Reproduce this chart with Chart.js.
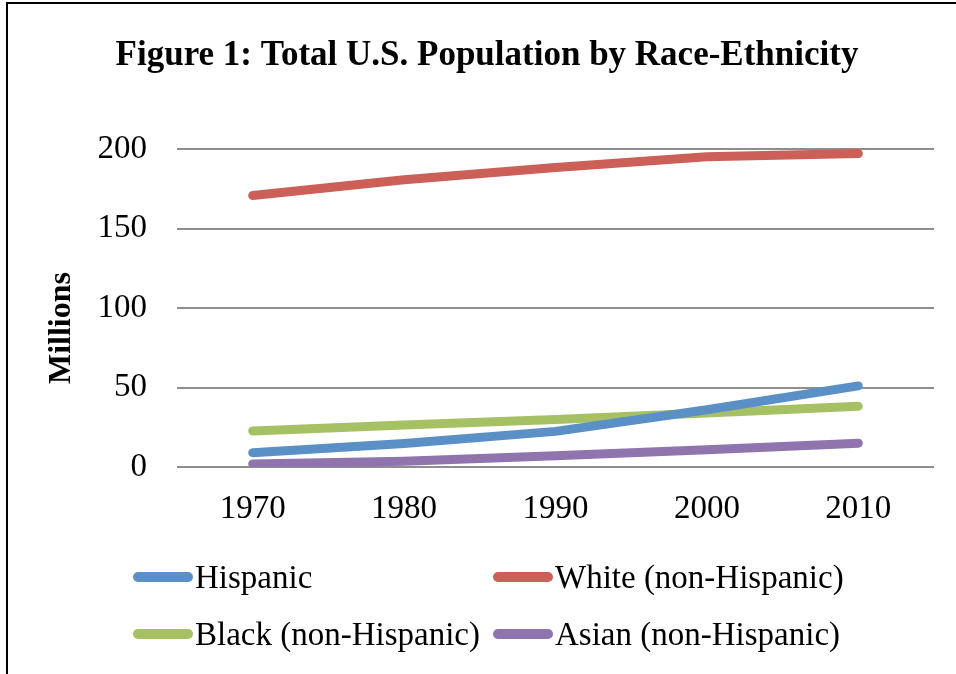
<!DOCTYPE html>
<html>
<head>
<meta charset="utf-8">
<title>Figure 1: Total U.S. Population by Race-Ethnicity</title>
<script src="https://cdn.jsdelivr.net/npm/chart.js@4.4.1/dist/chart.umd.min.js"></script>
<style>
    html, body { margin: 0; padding: 0; background: #fff; }
    #wrap { position: relative; width: 956px; height: 674px; overflow: hidden; }
    #frame {
        position: absolute; left: 6px; top: 2px; right: -4px; bottom: -4px;
        border-top: 2px solid #000; border-left: 2px solid #000;
    }
    #popChart { position: absolute; left: 0; top: 0; }
    .legend-item {
        position: absolute; display: flex; align-items: center;
        font-family: "Liberation Serif", "Times New Roman", serif;
        font-size: 33px; color: #000; white-space: nowrap;
    }
    .legend-swatch { width: 60px; height: 10px; border-radius: 5px; margin-right: 2px; }
</style>
</head>
<body>
<div id="wrap">
    <div id="frame"></div>
    <canvas id="popChart" width="956" height="674"></canvas>
    <div id="legend"></div>
</div>
<script>
// ========== DATA (millions) ==========
const years = ['1970', '1980', '1990', '2000', '2010'];
const hispanic = [9.0, 14.8, 22.4, 36.0, 51.0];
const white = [170.7, 180.6, 188.4, 195.1, 197.1];
const black = [22.7, 26.4, 29.9, 34.0, 38.2];
const asian = [1.9, 3.6, 7.0, 10.9, 15.0];

const seriesNames = ['Hispanic', 'White (non-Hispanic)', 'Black (non-Hispanic)', 'Asian (non-Hispanic)'];
const seriesColors = ['#5b90c7', '#cc5f57', '#a6c064', '#8f74ad'];
const yTicks = [0, 50, 100, 150, 200];

const serif = "'Liberation Serif', 'Times New Roman', serif";

function makeDataset(i, values) {
    return {
        label: seriesNames[i],
        data: values,
        borderColor: seriesColors[i],
        backgroundColor: seriesColors[i],
        borderWidth: 9,
        borderCapStyle: 'round',
        borderJoinStyle: 'round',
        pointRadius: 0,
        pointHoverRadius: 0,
        tension: 0,
        fill: false
    };
}

// "Millions" sits a bit below the middle of the plot, so draw it by hand
const axisTitle = {
    id: 'axisTitle',
    afterDraw(c) {
        const ctx = c.ctx;
        ctx.save();
        ctx.translate(62, 328);
        ctx.rotate(-Math.PI / 2);
        ctx.font = "bold 32px " + serif;
        ctx.fillStyle = '#000';
        ctx.textAlign = 'center';
        ctx.textBaseline = 'middle';
        ctx.fillText('Millions', 0, 0);
        ctx.restore();
    }
};

const chart = new Chart(document.getElementById('popChart').getContext('2d'), {
    type: 'line',
    data: {
        labels: years,
        datasets: [
            makeDataset(0, hispanic),
            makeDataset(1, white),
            makeDataset(2, black),
            makeDataset(3, asian)
        ]
    },
    options: {
        responsive: false,
        animation: false,
        layout: { padding: { left: 40, right: 22, top: 0, bottom: 147 } },
        plugins: {
            legend: { display: false },
            tooltip: { enabled: false },
            title: {
                display: true,
                text: 'Figure 1: Total U.S. Population by Race-Ethnicity',
                color: '#000',
                font: { family: serif, size: 35, weight: 'bold' },
                padding: { top: 35, bottom: 72 }
            }
        },
        scales: {
            x: {
                offset: true,
                grid: { display: false, drawTicks: false },
                border: { display: false },
                ticks: { color: '#000', font: { family: serif, size: 33 }, padding: 23, maxRotation: 0 },
                afterFit: scale => { scale.height = 60; }
            },
            y: {
                min: 0,
                max: 200,
                afterBuildTicks: scale => { scale.ticks = yTicks.map(v => ({ value: v })); },
                grid: { color: '#8e8e8e', lineWidth: 2, drawTicks: false },
                border: { display: false },
                ticks: { color: '#000', font: { family: serif, size: 33 }, padding: 30 },
                afterFit: scale => { scale.width = 137; }
            }
        }
    },
    plugins: [axisTitle]
});

// two-column legend under the plot
const legendPos = [[133, 577], [493, 577], [133, 634], [493, 634]];
const legend = document.getElementById('legend');
chart.data.datasets.forEach((ds, i) => {
    const item = document.createElement('div');
    item.className = 'legend-item';
    item.style.left = legendPos[i][0] + 'px';
    item.style.top = (legendPos[i][1] - 20) + 'px';
    item.style.height = '40px';
    const sw = document.createElement('span');
    sw.className = 'legend-swatch';
    sw.style.background = ds.borderColor;
    const txt = document.createElement('span');
    txt.textContent = ds.label;
    item.appendChild(sw);
    item.appendChild(txt);
    legend.appendChild(item);
});
</script>
</body>
</html>
